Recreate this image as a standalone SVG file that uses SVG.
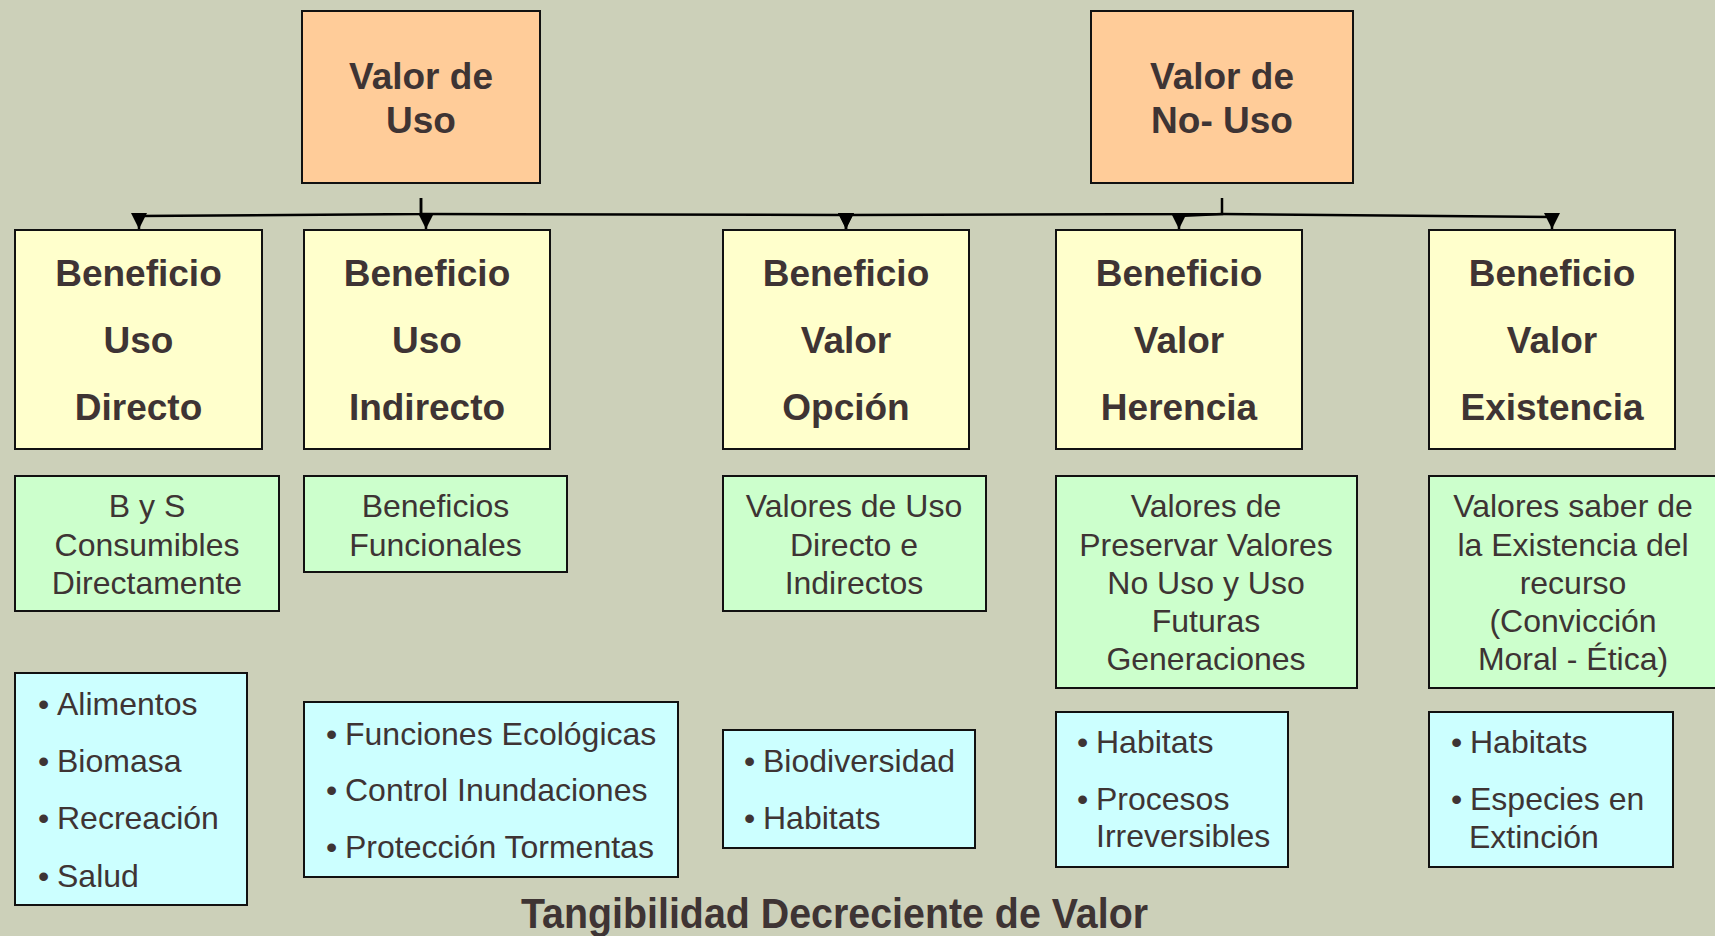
<svg xmlns="http://www.w3.org/2000/svg" width="1715" height="936" viewBox="0 0 1715 936">
<defs>
<marker id="arr" markerUnits="userSpaceOnUse" markerWidth="17" markerHeight="17" refX="16" refY="8" orient="auto">
<path d="M0,0 L16,8 L0,16 z" fill="#000"/>
</marker>
<style>
.box{stroke:#111;stroke-width:2}
.top{fill:#FFCC99}
.yel{fill:#FFFFCC}
.grn{fill:#CCFFCC}
.blu{fill:#CCFFFF}
text{font-family:"Liberation Sans",Arial,sans-serif;fill:#3E3434}
.tb{font-size:37px;font-weight:bold;text-anchor:middle}
.yb{font-size:37px;font-weight:bold;text-anchor:middle}
.gt{font-size:32px;text-anchor:middle}
.bt{font-size:32px}
.con{fill:none;stroke:#000;stroke-width:2.5}
</style>
</defs>
<rect width="1715" height="936" fill="#CCD0B9"/>

<g id="connectors">
<path class="con" d="M421,198 L421,214 L139,216 L139,229" marker-end="url(#arr)"/>
<path class="con" d="M421,198 L421,214 L426,215 L426,229" marker-end="url(#arr)"/>
<path class="con" d="M421,214 L846,215 L846,229" marker-end="url(#arr)"/>
<path class="con" d="M1222,198 L1222,214 L846,215 L846,229" marker-end="url(#arr)"/>
<path class="con" d="M1222,214 L1179,216 L1179,229" marker-end="url(#arr)"/>
<path class="con" d="M1222,214 L1552,217 L1552,229" marker-end="url(#arr)"/>
</g>

<g id="valor-uso">
<rect class="box top" x="302" y="11" width="238" height="172"/>
<text class="tb" x="421" y="89">Valor de</text>
<text class="tb" x="421" y="133">Uso</text>
</g>
<g id="valor-no-uso">
<rect class="box top" x="1091" y="11" width="262" height="172"/>
<text class="tb" x="1222" y="89">Valor de</text>
<text class="tb" x="1222" y="133">No- Uso</text>
</g>

<g id="beneficio-uso-directo">
<rect class="box yel" x="15" y="230" width="247" height="219"/>
<text class="yb" x="138.5" y="286">Beneficio</text>
<text class="yb" x="138.5" y="353">Uso</text>
<text class="yb" x="138.5" y="420">Directo</text>
</g>
<g id="beneficio-uso-indirecto">
<rect class="box yel" x="304" y="230" width="246" height="219"/>
<text class="yb" x="427" y="286">Beneficio</text>
<text class="yb" x="427" y="353">Uso</text>
<text class="yb" x="427" y="420">Indirecto</text>
</g>
<g id="beneficio-valor-opcion">
<rect class="box yel" x="723" y="230" width="246" height="219"/>
<text class="yb" x="846" y="286">Beneficio</text>
<text class="yb" x="846" y="353">Valor</text>
<text class="yb" x="846" y="420">Opción</text>
</g>
<g id="beneficio-valor-herencia">
<rect class="box yel" x="1056" y="230" width="246" height="219"/>
<text class="yb" x="1179" y="286">Beneficio</text>
<text class="yb" x="1179" y="353">Valor</text>
<text class="yb" x="1179" y="420">Herencia</text>
</g>
<g id="beneficio-valor-existencia">
<rect class="box yel" x="1429" y="230" width="246" height="219"/>
<text class="yb" x="1552" y="286">Beneficio</text>
<text class="yb" x="1552" y="353">Valor</text>
<text class="yb" x="1552" y="420">Existencia</text>
</g>

<g id="bys-consumibles">
<rect class="box grn" x="15" y="476" width="264" height="135"/>
<text class="gt" x="147" y="517">B y S</text>
<text class="gt" x="147" y="556">Consumibles</text>
<text class="gt" x="147" y="594">Directamente</text>
</g>
<g id="beneficios-funcionales">
<rect class="box grn" x="304" y="476" width="263" height="96"/>
<text class="gt" x="435.5" y="517">Beneficios</text>
<text class="gt" x="435.5" y="556">Funcionales</text>
</g>
<g id="valores-uso-directo-indirectos">
<rect class="box grn" x="723" y="476" width="263" height="135"/>
<text class="gt" x="854" y="517">Valores de Uso</text>
<text class="gt" x="854" y="556">Directo e</text>
<text class="gt" x="854" y="594">Indirectos</text>
</g>
<g id="valores-preservar">
<rect class="box grn" x="1056" y="476" width="301" height="212"/>
<text class="gt" x="1206" y="517">Valores de</text>
<text class="gt" x="1206" y="556">Preservar Valores</text>
<text class="gt" x="1206" y="594">No Uso y Uso</text>
<text class="gt" x="1206" y="632">Futuras</text>
<text class="gt" x="1206" y="670">Generaciones</text>
</g>
<g id="valores-existencia">
<rect class="box grn" x="1429" y="476" width="288" height="212"/>
<text class="gt" x="1573" y="517">Valores saber de</text>
<text class="gt" x="1573" y="556">la Existencia del</text>
<text class="gt" x="1573" y="594">recurso</text>
<text class="gt" x="1573" y="632">(Convicción</text>
<text class="gt" x="1573" y="670">Moral - Ética)</text>
</g>

<g id="lista-directo">
<rect class="box blu" x="15" y="673" width="232" height="232"/>
<text class="bt" x="38" y="715">•</text><text class="bt" x="57" y="715">Alimentos</text>
<text class="bt" x="38" y="772">•</text><text class="bt" x="57" y="772">Biomasa</text>
<text class="bt" x="38" y="829">•</text><text class="bt" x="57" y="829">Recreación</text>
<text class="bt" x="38" y="887">•</text><text class="bt" x="57" y="887">Salud</text>
</g>
<g id="lista-indirecto">
<rect class="box blu" x="304" y="702" width="374" height="175"/>
<text class="bt" x="326" y="745">•</text><text class="bt" x="345" y="745">Funciones Ecológicas</text>
<text class="bt" x="326" y="801">•</text><text class="bt" x="345" y="801">Control Inundaciones</text>
<text class="bt" x="326" y="858">•</text><text class="bt" x="345" y="858">Protección Tormentas</text>
</g>
<g id="lista-opcion">
<rect class="box blu" x="723" y="730" width="252" height="118"/>
<text class="bt" x="744" y="772">•</text><text class="bt" x="763" y="772">Biodiversidad</text>
<text class="bt" x="744" y="829">•</text><text class="bt" x="763" y="829">Habitats</text>
</g>
<g id="lista-herencia">
<rect class="box blu" x="1056" y="712" width="232" height="155"/>
<text class="bt" x="1077" y="753">•</text><text class="bt" x="1096" y="753">Habitats</text>
<text class="bt" x="1077" y="810">•</text><text class="bt" x="1096" y="810">Procesos</text>
<text class="bt" x="1096" y="847">Irreversibles</text>
</g>
<g id="lista-existencia">
<rect class="box blu" x="1429" y="712" width="244" height="155"/>
<text class="bt" x="1451" y="753">•</text><text class="bt" x="1470" y="753">Habitats</text>
<text class="bt" x="1451" y="810">•</text><text class="bt" x="1470" y="810">Especies en</text>
<text class="bt" x="1469" y="848">Extinción</text>
</g>

<g id="titulo">
<text x="834.5" y="928" font-size="43" font-weight="bold" text-anchor="middle" textLength="627" lengthAdjust="spacingAndGlyphs">Tangibilidad Decreciente de Valor</text>
</g>
</svg>
